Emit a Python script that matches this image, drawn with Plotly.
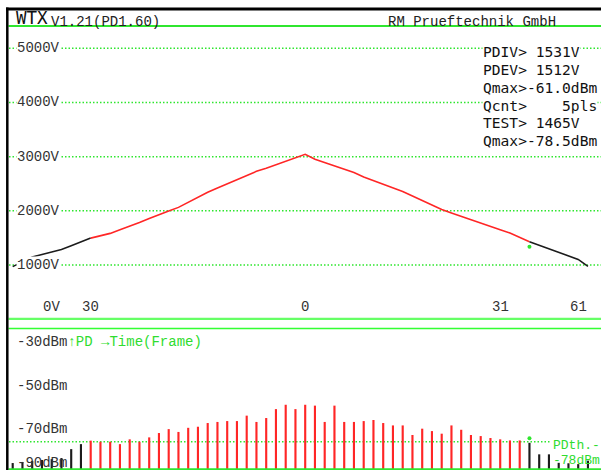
import plotly.graph_objects as go

W, H = 601, 470

# Test frames and the applied voltage per frame (V)
frames = list(range(60))
voltage_v = [970, 1057, 1147, 1193, 1239, 1285, 1357, 1427, 1497, 1540,
             1584, 1650, 1715, 1786, 1860, 1934, 1998, 2064, 2158, 2260,
             2343, 2422, 2501, 2582, 2661, 2729, 2788, 2849, 2910, 2974,
             3044, 2952, 2893, 2832, 2773, 2709, 2626, 2560, 2503, 2431,
             2359, 2276, 2195, 2109, 2024, 1961, 1902, 1840, 1777, 1715,
             1652, 1589, 1510, 1431, 1365, 1297, 1228, 1166, 1103, 975]

# Partial-discharge level per frame (dBm)
q_dbm = [-87.8, -87.3, -86.9, -86.4, -86.0, -85.5, -81.4, -79.1,
         -77.5, -78.0, -78.0, -79.1, -76.9, -78.0, -76.0, -74.0, -72.2, -73.5,
         -71.6, -71.1, -69.4, -68.9, -68.5, -68.5, -66.0, -68.9, -67.1, -63.0,
         -61.0, -63.0, -61.0, -61.4, -68.9, -61.4, -68.9, -68.9, -68.5, -68.0,
         -69.4, -70.5, -70.5, -74.9, -72.0, -73.1, -74.3, -70.5, -72.5, -74.9,
         -75.4, -76.3, -76.9, -77.4, -77.4, -78.5, -83.8, -83.8, -87.7, -87.9,
         -88.3, -86.7]

pd_on, pd_off = 8, 53          # first PD frame, first frame after extinction
pd_threshold = -78             # dBm
test_frame = 53
test_voltage = 1338
test_level = -76.4

volt_grid = [1000, 2000, 3000, 4000, 5000]
volt_labels = ["1000V", "2000V", "3000V", "4000V", "5000V"]
dbm_vals = [-30, -50, -70, -90]
dbm_labels = ["-30dBm", "-50dBm", "-70dBm", "-90dBm"]
frame_tick_vals = [8, 30, 50, 58]
frame_tick_text = ["30", "0", "31", "61"]
readout = ["PDIV> 1531V", "PDEV> 1512V", "Qmax>-61.0dBm",
           "Qcnt>    5pls", "TEST> 1465V", "Qmax>-78.5dBm"]

GREEN = "#2fe62f"
GREEN_TXT = "#2fdc2f"
RED = "#ff2626"
DARK = "#1c1c1c"
MONO = "Liberation Mono"
THIN = "DejaVu Sans Mono"


def px_x(px):
    return px / W


def px_y(py):
    return 1 - py / H


fig = go.Figure()

# Voltage ramp, black outside the PD window, red inside
segments = [(0, pd_on + 1, DARK), (pd_on, pd_off + 1, RED), (pd_off, len(frames), DARK)]
for a, b, col in segments:
    fig.add_trace(go.Scatter(x=frames[a:b], y=voltage_v[a:b], mode="lines",
                             line=dict(color=col, width=1.6),
                             xaxis="x", yaxis="y", hoverinfo="skip"))

fig.add_trace(go.Scatter(x=[test_frame], y=[test_voltage], mode="markers",
                         marker=dict(color=GREEN, size=4),
                         xaxis="x", yaxis="y", hoverinfo="skip"))

# PD pulse bars
floor = -91.0
bar_colors = [DARK if (i < pd_on or i >= pd_off) else RED for i in frames]
fig.add_trace(go.Bar(x=frames, y=[q - floor for q in q_dbm], base=floor,
                     width=0.22, marker=dict(color=bar_colors, line=dict(width=0)),
                     xaxis="x", yaxis="y2", hoverinfo="skip"))

fig.add_trace(go.Scatter(x=[test_frame], y=[test_level], mode="markers",
                         marker=dict(color=GREEN, size=4),
                         xaxis="x", yaxis="y2", hoverinfo="skip"))

shapes = []
# dotted voltage grid
for v in volt_grid:
    shapes.append(dict(type="line", xref="paper", yref="y", x0=px_x(9), x1=1,
                       y0=v, y1=v, layer="below",
                       line=dict(color=GREEN, width=1.5, dash="1.5px,2px")))
# PD threshold
shapes.append(dict(type="line", xref="paper", yref="y2", x0=px_x(9), x1=px_x(551),
                   y0=pd_threshold, y1=pd_threshold, layer="below",
                   line=dict(color=GREEN, width=1.5, dash="1.5px,2px")))
# solid panel separators
for py, col, w in [(26, GREEN, 2), (318.8, "#66ff66", 2.3), (328.5, "#33ff33", 1.7),
                   (469.2, GREEN, 2)]:
    shapes.append(dict(type="line", xref="paper", yref="paper", x0=px_x(8.5), x1=1,
                       y0=px_y(py), y1=px_y(py), line=dict(color=col, width=w)))
# black frame
shapes.append(dict(type="line", xref="paper", yref="paper", x0=px_x(6), x1=1,
                   y0=px_y(9), y1=px_y(9), line=dict(color="black", width=3)))
shapes.append(dict(type="line", xref="paper", yref="paper", x0=px_x(7.3), x1=px_x(7.3),
                   y0=0, y1=px_y(7.5), line=dict(color="black", width=2.5)))

ann = []


def text(x, y, s, size, color="#222", family=MONO, xref="paper", yref="paper",
         bg=None, yshift=0, xanchor="left"):
    d = dict(x=x, y=y, xref=xref, yref=yref, text=s, showarrow=False,
             xanchor=xanchor, yanchor="middle", yshift=yshift,
             font=dict(family=family, size=size, color=color), borderpad=0)
    if bg:
        d["bgcolor"] = bg
    ann.append(d)


# header
text(px_x(15), px_y(17.5), "WTX", 17.5, color="#111", family=THIN)
text(px_x(50), px_y(21.5), "V1.21(PD1.60)", 14)
text(px_x(387), px_y(21.5), "RM Prueftechnik GmbH", 14)

# voltage labels
for v, s in zip(volt_grid, volt_labels):
    text(px_x(16), v, s, 14, color="#333", yref="y", bg="white")
text(px_x(42), px_y(307), "0V", 14, color="#333")

# frame ticks
for f, s in zip(frame_tick_vals, frame_tick_text):
    text(f, px_y(307), s, 14, color="#333", xref="x", xanchor="center")

# readout block
for k, s in enumerate(readout):
    text(px_x(482), px_y(52 + 17.7 * k), s.replace(" ", "\u00a0"), 14.6,
         color="#111", family=THIN, bg="white")

# dBm labels
for v, s in zip(dbm_vals, dbm_labels):
    if v == dbm_vals[0]:
        s = s + "<span style='color:%s'>↑PD →Time(Frame)</span>" % GREEN_TXT
    text(px_x(16), v, s, 14, color="#333", yref="y2",
         yshift=-5 if v > floor + 1 else 5)

# threshold caption, right-aligned to the plot edge
text(1, px_y(445), "PDth.-", 13, color=GREEN_TXT, xanchor="right")
text(1, px_y(460.5), "-78dBm", 13, color=GREEN_TXT, xanchor="right")

fig.update_layout(
    width=W, height=H, margin=dict(l=0, r=0, t=0, b=0),
    paper_bgcolor="white", plot_bgcolor="white", showlegend=False,
    xaxis=dict(domain=[0, 1], range=[-1.3026, 60.338], visible=False),
    yaxis=dict(domain=[px_y(319.2), px_y(26)], range=[0, 5412], visible=False),
    yaxis2=dict(domain=[0, px_y(328)], range=[floor, -25.7], visible=False),
    shapes=shapes, annotations=ann,
)

fig.write_html("out.html")
